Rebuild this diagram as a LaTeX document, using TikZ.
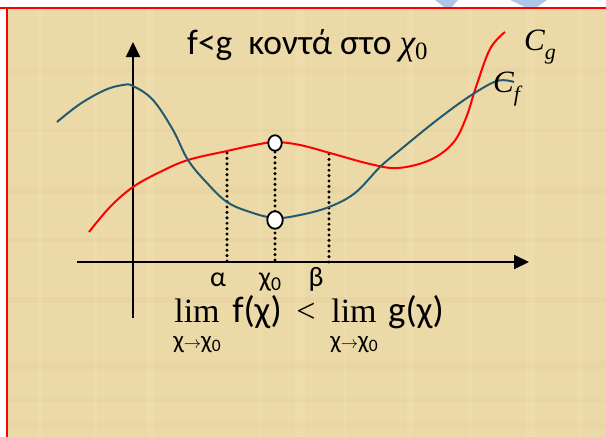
\documentclass[tikz,border=0pt]{standalone}
\usepackage{fontspec}
\setmainfont{Carlito}
\newfontfamily\cmbit{Liberation Serif}
\usepackage{tikz}
\usetikzlibrary{arrows.meta, positioning, shapes.geometric}
\definecolor{parch}{RGB}{236,217,168}
\definecolor{parchlt}{RGB}{248,234,196}
\definecolor{parchdk}{RGB}{222,200,145}
\definecolor{fblue}{RGB}{36,90,110}
\definecolor{wmblue}{RGB}{172,198,234}
\tikzset{
  axisln/.style={line width=2pt, black, -{Triangle[length=15pt,width=14pt]}},
  curvef/.style={line width=2pt, fblue},
  curveg/.style={line width=2pt, red},
  dotln/.style={line width=3.4pt, dash pattern=on 0pt off 5.4pt, line cap=round},
  hole/.style={ellipse, draw=black, line width=1.8pt, fill=white,
               minimum width=#1, minimum height=#1+2pt, inner sep=0pt},
  hole/.default=14pt,
  weave/.style={line width=#1, opacity=0.2},
  ttl/.style={font=\fontsize{35.5}{38}\selectfont, inner sep=0pt, anchor=base west},
  tick/.style={font=\fontsize{28}{30}\selectfont, inner sep=0pt, anchor=base},
  limtxt/.style={font=\fontsize{37}{39}\selectfont, inner sep=0pt, anchor=base},
  limop/.style={font=\fontsize{34}{36}\selectfont\cmbit, inner sep=0pt, anchor=base},
  subtxt/.style={font=\fontsize{25}{27}\selectfont, inner sep=0pt, anchor=base},
  cname/.style={font=\fontsize{31}{33}\selectfont\cmbit\itshape, inner sep=0pt, anchor=base west},
}
\newcommand{\subnum}[1]{\raisebox{-0.15em}{\fontsize{0.7em}{1em}\selectfont\upshape #1}}

\begin{document}
\begin{tikzpicture}[x=1pt, y=-1pt]
  \useasboundingbox (0,0) rectangle (606,437);
  %% Background
  \fill[parch] (7,8) rectangle (606,437);
  \foreach \vx/\vw in {40/6,95/3,150/8,260/4,300/10,345/3,410/7,470/4,530/9,580/5}
    \draw[weave=\vw pt, parchlt] (\vx,8) -- (\vx,437);
  \foreach \hy/\hw in {70/5,130/3,190/7,240/4,300/6,365/8,400/3,425/5}
    \draw[weave=\hw pt, parchdk] (7,\hy) -- (606,\hy);
  \fill[wmblue] (435,0) -- (458,0) -- (452,7) -- (444,7) -- cycle;
  \fill[wmblue] (510,0) -- (547,0) -- (537,7) -- (525,7) -- cycle;
  \draw[red, line width=1.6pt] (0,8) -- (606,8);
  \draw[red, line width=2pt] (7,8) -- (7,437);

  %% Axes
  \coordinate (xl) at (77,262);
  \coordinate (xr) at (529,262);
  \coordinate (yb) at (133,318);
  \coordinate (yt) at (133,42);
  \draw[axisln] (xl) -- (xr);
  \draw[axisln] (yb) -- (yt);

  %% Dotted guides
  \coordinate (ga) at (227,153);
  \coordinate (gb) at (329,154);
  \coordinate (ax) at (227,262);
  \coordinate (x0) at (275,262);
  \coordinate (bx) at (329,262);
  \draw[dotln] (ga) -- (ax);
  \draw[dotln] (gb) -- (bx);
  \draw[dotln] (275,152) -- (x0);

  %% Curves
  \draw[curveg] plot[smooth, tension=0.6] coordinates {
    (89,232) (110,207) (133,187) (160,172) (188,160) (227,151) (255,145)
    (275,142) (300,145) (330,153) (370,164) (398,168) (430,160) (453,143)
    (466,118) (476,87) (490,49) (505,32)};
  \draw[curvef] plot[smooth, tension=0.6] coordinates {
    (57,122) (80,104) (105,90) (123,85) (133,86) (153,100) (173,130)
    (188,160) (207,183) (227,202) (250,212) (275,218) (300,215) (329,207)
    (355,193) (380,167) (400,150) (437,120) (470,96) (497,81) (514,82)};
  \node[hole=13.5pt] (gx0) at (275,143) {};
  \node[hole=15.5pt] (fx0) at (275,220) {};

  %% Labels
  \node[ttl] (title) at (187,54) {f<g\ \ κοντά στο {\cmbit\itshape χ\subnum{0}}};
  \node[cname] (cg) at (524,50) {C\raisebox{-0.3em}{\fontsize{22}{24}\selectfont g}};
  \node[cname] (cf) at (493,92) {C\raisebox{-0.3em}{\fontsize{22}{24}\selectfont f}};
  \node[tick] (la) at (218,286) {α};
  \node[tick] (lx0) at (270,286) {χ\subnum{0}};
  \node[tick] (lb) at (316,286) {β};
  \node[limop] (lim1) at (197,322) {lim};
  \node[limtxt] (fx) at (257,322) {f(χ)};
  \node[limop] (lt) at (306,322) {<};
  \node[limop] (lim2) at (354,322) {lim};
  \node[limtxt] (gx) at (416,322) {g(χ)};
  \node[subtxt] (s1) at (197,348) {χ{\fontsize{16}{16}\selectfont$\to$}χ\subnum{0}};
  \node[subtxt] (s2) at (354,348) {χ{\fontsize{16}{16}\selectfont$\to$}χ\subnum{0}};
\end{tikzpicture}
\end{document}
